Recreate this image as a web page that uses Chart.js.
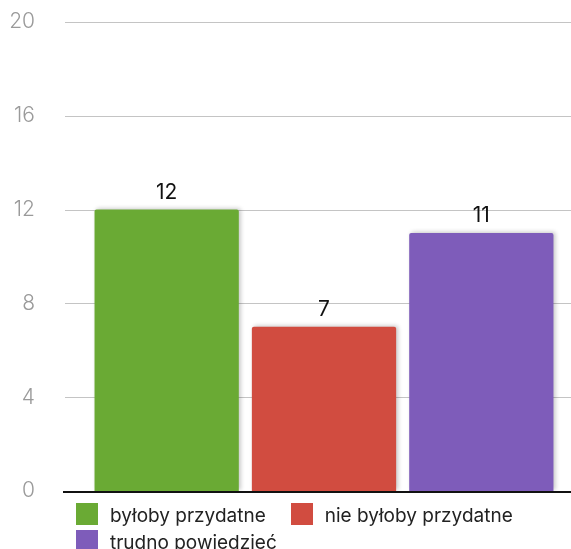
<!DOCTYPE html>
<html lang="pl">
<head>
<meta charset="utf-8">
<title>Ankieta</title>
<script src="https://cdn.jsdelivr.net/npm/chart.js@4.4.1/dist/chart.umd.min.js"></script>
<style>
  html, body { margin: 0; padding: 0; background: #fff; }
  #wrap { position: relative; width: 571px; height: 549px; overflow: hidden; }
  #legend {
    position: absolute; left: 76px; top: 503px; width: 480px;
    display: flex; flex-wrap: wrap; column-gap: 25px; row-gap: 5px;
    font-family: Inter, sans-serif; font-size: 19px; color: #222;
  }
  .item { display: flex; align-items: center; height: 22px; white-space: nowrap; }
  .item span:last-child { position: relative; top: 1px; }
  .box { width: 22px; height: 22px; margin-right: 12px; }
</style>
</head>
<body>
<div id="wrap">
  <canvas id="chart" width="571" height="549"></canvas>
  <div id="legend"></div>
</div>
<script>
// data
const categories = ["byłoby przydatne", "nie byłoby przydatne", "trudno powiedzieć"];
const values = [12, 7, 11];
const colors = ["#6aaa34", "#d14c40", "#7e5cba"];
const yTicks = [0, 4, 8, 12, 16, 20];

// light grid lines running across the whole width (further than the bars)
const gridLines = {
  id: "gridLines",
  beforeDatasetsDraw(chart) {
    const { ctx, scales } = chart;
    ctx.save();
    ctx.strokeStyle = "#c4c4c4";
    ctx.lineWidth = 1;
    yTicks.forEach((v) => {
      if (v === 0) return;
      const y = Math.round(scales.y.getPixelForValue(v)) + 0.5;
      ctx.beginPath();
      ctx.moveTo(65, y);
      ctx.lineTo(chart.width, y);
      ctx.stroke();
    });
    ctx.restore();
  },
  afterDatasetsDraw(chart) {
    // black base line at 0
    const { ctx, scales } = chart;
    const y = scales.y.getPixelForValue(0);
    ctx.save();
    ctx.strokeStyle = "#111";
    ctx.lineWidth = 2;
    ctx.beginPath();
    ctx.moveTo(63, y + 1);
    ctx.lineTo(chart.width, y + 1);
    ctx.stroke();
    ctx.restore();
  },
};

// soft shadow behind the bars
const barShadow = {
  id: "barShadow",
  beforeDatasetDraw(chart) {
    const ctx = chart.ctx;
    ctx.save();
    ctx.shadowColor = "rgba(0,0,0,0.22)";
    ctx.shadowBlur = 4;
    ctx.shadowOffsetX = 2;
    ctx.shadowOffsetY = -1;
  },
  afterDatasetDraw(chart) {
    chart.ctx.restore();
  },
};

// value above each bar
const valueLabels = {
  id: "valueLabels",
  afterDatasetsDraw(chart) {
    const { ctx } = chart;
    const meta = chart.getDatasetMeta(0);
    ctx.save();
    ctx.font = "21px Inter, sans-serif";
    ctx.fillStyle = "#111";
    ctx.textAlign = "center";
    ctx.textBaseline = "alphabetic";
    meta.data.forEach((bar, i) => {
      ctx.fillText(String(values[i]), bar.x, bar.y - 11);
    });
    ctx.restore();
  },
};

function buildLegend() {
  const legend = document.getElementById("legend");
  categories.forEach((label, i) => {
    const item = document.createElement("div");
    item.className = "item";
    item.innerHTML = `<span class="box" style="background:${colors[i]}"></span><span>${label}</span>`;
    legend.appendChild(item);
  });
}

const ctx = document.getElementById("chart").getContext("2d");

new Chart(ctx, {
  type: "bar",
  data: {
    labels: categories,
    datasets: [
      {
        data: values,
        backgroundColor: colors,
        borderRadius: 2,
        borderSkipped: "bottom",
        categoryPercentage: 0.917,
        barPercentage: 1,
      },
    ],
  },
  options: {
    responsive: false,
    animation: false,
    layout: { padding: { top: 22, right: 11, bottom: 58, left: 0 } },
    plugins: {
      legend: { display: false },
      tooltip: { enabled: false },
    },
    scales: {
      x: { display: false },
      y: {
        min: 0,
        max: 20,
        afterBuildTicks: (scale) => {
          scale.ticks = yTicks.map((v) => ({ value: v }));
        },
        afterFit: (scale) => {
          // fixed axis width, and no extra top/bottom padding from the big tick padding
          scale.width = 88;
          scale.paddingTop = 0;
          scale.paddingBottom = 0;
        },
        grid: { display: false, drawTicks: false },
        border: { display: false },
        ticks: {
          padding: 53,
          color: "#9a9a9a",
          font: { family: "Inter, sans-serif", size: 21, weight: "300" },
        },
      },
    },
  },
  plugins: [gridLines, barShadow, valueLabels],
});

buildLegend();
</script>
</body>
</html>
